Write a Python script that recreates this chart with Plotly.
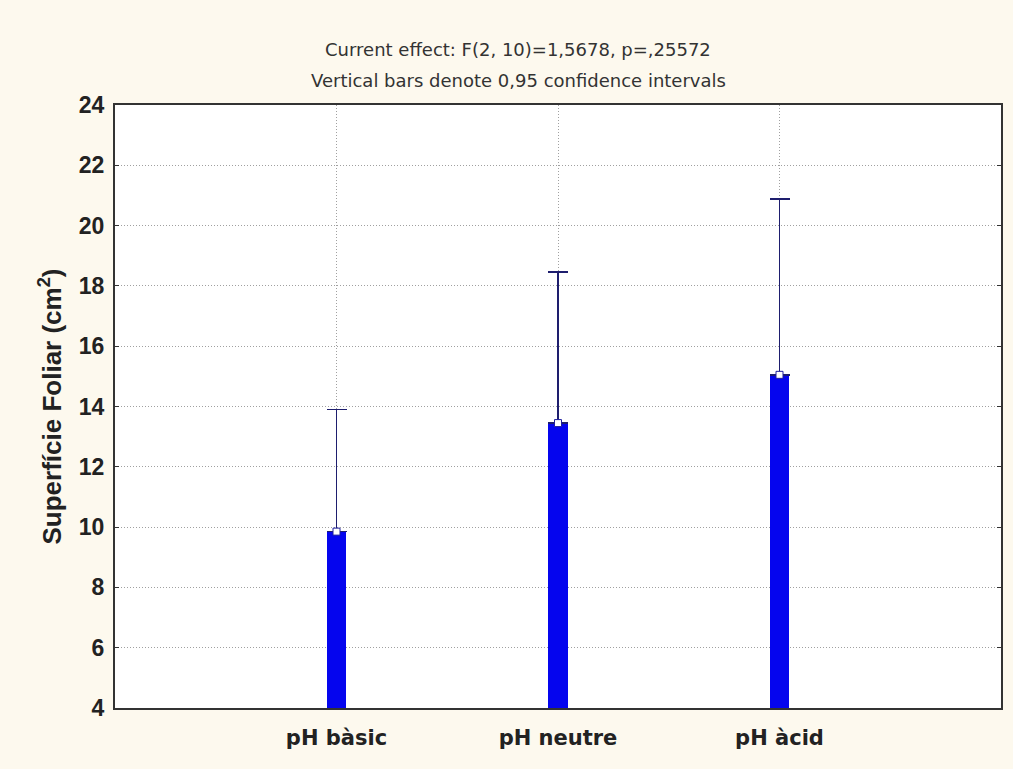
import plotly.graph_objects as go

categories = ["pH bàsic", "pH neutre", "pH àcid"]
means = [9.85, 13.45, 15.05]
upper_ci = [13.9, 18.46, 20.88]
y_ticks = [4, 6, 8, 10, 12, 14, 16, 18, 20, 22, 24]

x_pos = [1, 2, 3]
err_plus = [u - m for u, m in zip(upper_ci, means)]

fig = go.Figure()
fig.add_trace(go.Bar(
    x=x_pos, y=[m - 4 for m in means], base=4, width=0.09,
    marker=dict(color="#0505ee", line=dict(width=0)),
    error_y=dict(type="data", symmetric=False, array=err_plus, arrayminus=[0, 0, 0],
                 color="#1e1e6e", thickness=1.5, width=10),
    showlegend=False, hoverinfo="skip"))
fig.add_trace(go.Scatter(
    x=x_pos, y=means, mode="markers",
    marker=dict(symbol="square", size=7, color="white", line=dict(color="#1e1e9e", width=1)),
    showlegend=False))

fig.update_layout(
    width=1013, height=769,
    paper_bgcolor="#fdf9ee", plot_bgcolor="white",
    margin=dict(l=115, r=10, t=105, b=61),
    font=dict(family="Liberation Sans, Arial, sans-serif", color="black"),
    xaxis=dict(range=[0, 4], tickvals=x_pos, ticktext=categories,
               tickfont=dict(size=21, family="DejaVu Sans", weight="bold", color="#222"),
               showgrid=True, gridcolor="#a0a0a0", griddash="1px,2px", gridwidth=1,
               showline=True, linecolor="#333", linewidth=2, mirror=True,
               ticks="", zeroline=False, ticklabelstandoff=10),
    yaxis=dict(range=[4, 24], tickvals=y_ticks,
               tickfont=dict(size=23, family="Liberation Sans, Arial", weight="bold", color="#222"),
               showgrid=True, gridcolor="#a0a0a0", griddash="1px,2px", gridwidth=1,
               showline=True, linecolor="#333", linewidth=2, mirror="ticks",
               ticks="inside", ticklen=4, tickcolor="#333", ticklabelstandoff=4,
               title=dict(text="Superfície Foliar (cm<sup>2</sup>)",
                          font=dict(size=26, family="Liberation Sans, Arial", weight="bold", color="#222"),
                          standoff=10),
               zeroline=False),
    bargap=0,
)

fig.add_annotation(x=0.455, y=1.1128, xref="paper", yref="paper", showarrow=False,
                   text="Current effect: F(2, 10)=1,5678, p=,25572",
                   font=dict(size=18, family="DejaVu Sans", color="#333"))
fig.add_annotation(x=0.455, y=1.0614, xref="paper", yref="paper", showarrow=False,
                   text="Vertical bars denote 0,95 confidence intervals",
                   font=dict(size=18, family="DejaVu Sans", color="#333"))

fig.write_html("out.html", config={"displayModeBar": False},
               post_script="document.body.style.margin='0';")
